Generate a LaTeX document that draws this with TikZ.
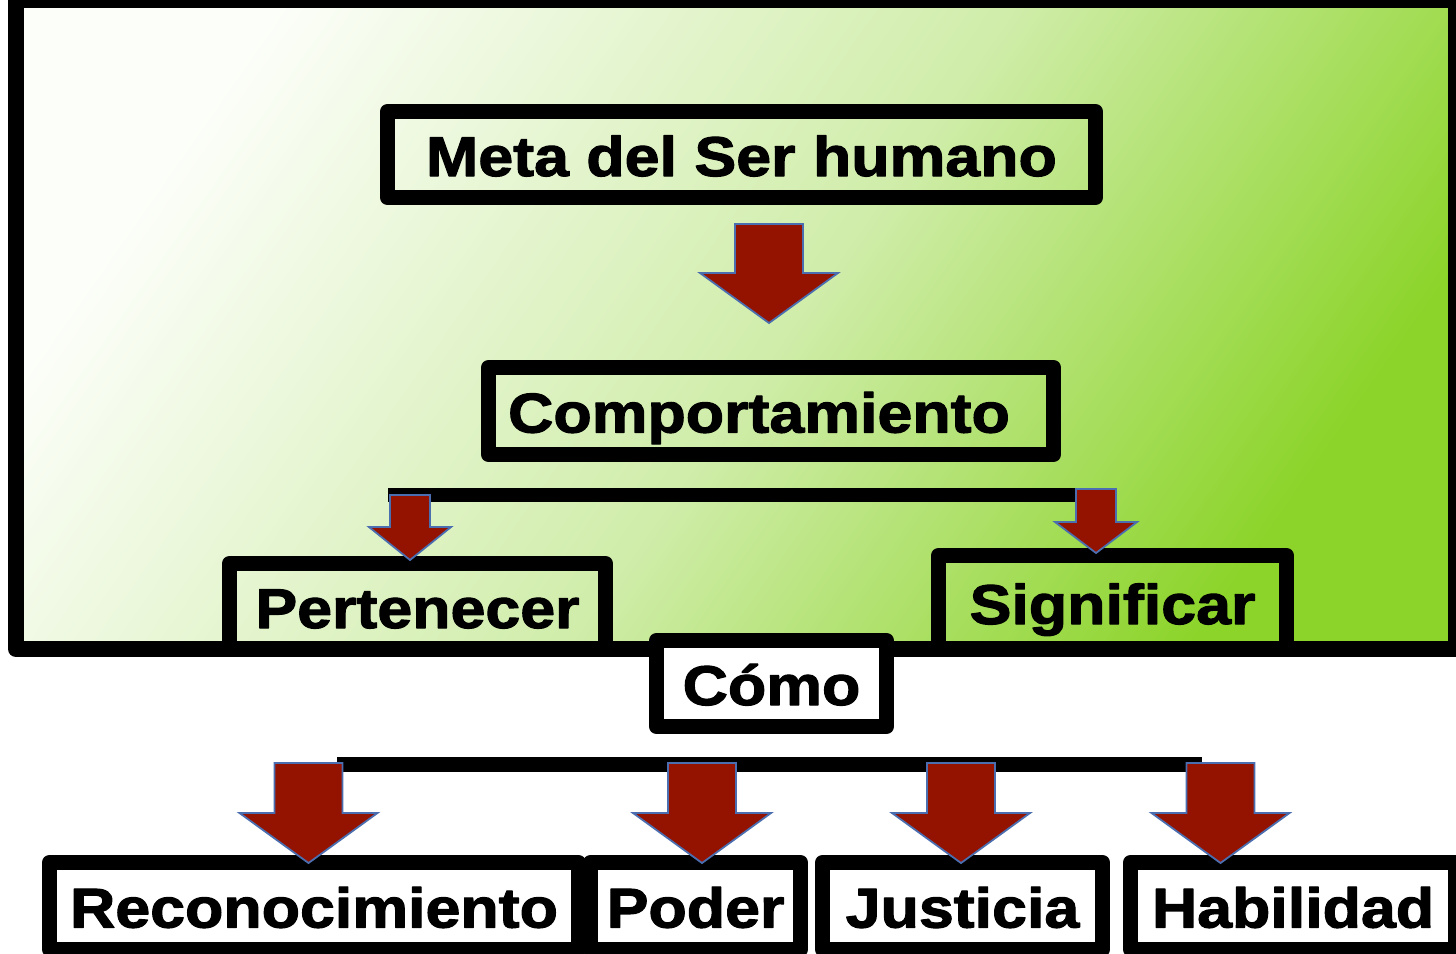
\documentclass[tikz,border=0pt]{standalone}
\usepackage{fontspec}
\setmainfont{Liberation Sans}[FakeStretch=1.12, FakeBold=2]
\definecolor{fondoA}{RGB}{252,254,249}
\definecolor{fondoB}{RGB}{208,237,170}
\definecolor{fondoC}{RGB}{140,212,42}
\definecolor{mrojo}{RGB}{147,18,0}
\definecolor{mborde}{RGB}{74,110,175}
\pgfdeclarehorizontalshading{fondo}{100bp}{color(0bp)=(fondoA); color(25bp)=(fondoA);
  color(52bp)=(fondoB); color(75bp)=(fondoC); color(100bp)=(fondoC)}
\tikzset{caja/.style = {draw, line width=7.5pt, line join=round, inner sep=0,
                        text height=21.5pt, text depth=0pt,
                        font=\fontsize{28}{30}\selectfont\bfseries}}
\tikzset{cajab/.style = {caja, fill=white}}
\tikzset{flecha/.style = {fill=mrojo, draw=mborde, line width=0.9pt, line join=miter}}
% x centre, top, half shaft, half head, head y, tip y
\newcommand{\bajar}[6]{%
  \draw[flecha] (#1-#3,#2) -- (#1+#3,#2) -- (#1+#3,#5) -- (#1+#4,#5)
    -- (#1,#6) -- (#1-#4,#5) -- (#1-#3,#5) -- cycle;}

\begin{document}
\begin{tikzpicture}[x=0.5pt, y=-0.5pt]
  \useasboundingbox (0,0) rectangle (1456,953);
  % marco verde
  \shade [shading=fondo, shading angle=-35] (16,0) rectangle (1456,649);
  \draw [line width=8pt, line join=round] (16,0) rectangle (1456,649);

  \draw [line width=7pt] (388,495) -- (1095,495);
  \node [caja, minimum width=188pt, minimum height=43pt] (pert) at (417.5,606.5) {Pertenecer};
  \node [caja, minimum width=174pt, minimum height=47pt] (sign) at (1112.5,602.5) {Significar};
  \bajar{410}{495}{20}{41}{527}{560}
  \bajar{1096}{489}{20}{41}{522}{553}

  \node [caja, minimum width=354pt, minimum height=43pt] (meta) at (741.5,154.5) {Meta del Ser humano};
  \bajar{769}{224}{34}{69}{273}{323}
  \node [caja, minimum width=282.5pt, minimum height=43.5pt] (comp) at (771,411) {Comportamiento\kern12pt};

  \node [cajab, minimum width=115pt, minimum height=43pt] (como) at (771.5,683.5) {Cómo};

  \draw [line width=7.5pt] (337,764.5) -- (1202,764.5);
  \node [cajab, minimum width=264.5pt, minimum height=43.5pt] (reco) at (314,906) {Reconocimiento};
  \node [cajab, minimum width=105pt, minimum height=43.5pt] (poder) at (695.5,906) {Poder};
  \node [cajab, minimum width=140pt, minimum height=43.5pt] (just) at (962.5,906) {Justicia};
  \node [cajab, minimum width=162.5pt, minimum height=43.5pt] (habil) at (1293,906) {Habilidad};
  \foreach \xc in {308.5, 702, 961, 1220.5} {
    \bajar{\xc}{763}{34}{69}{813}{863}
  }
\end{tikzpicture}
\end{document}
